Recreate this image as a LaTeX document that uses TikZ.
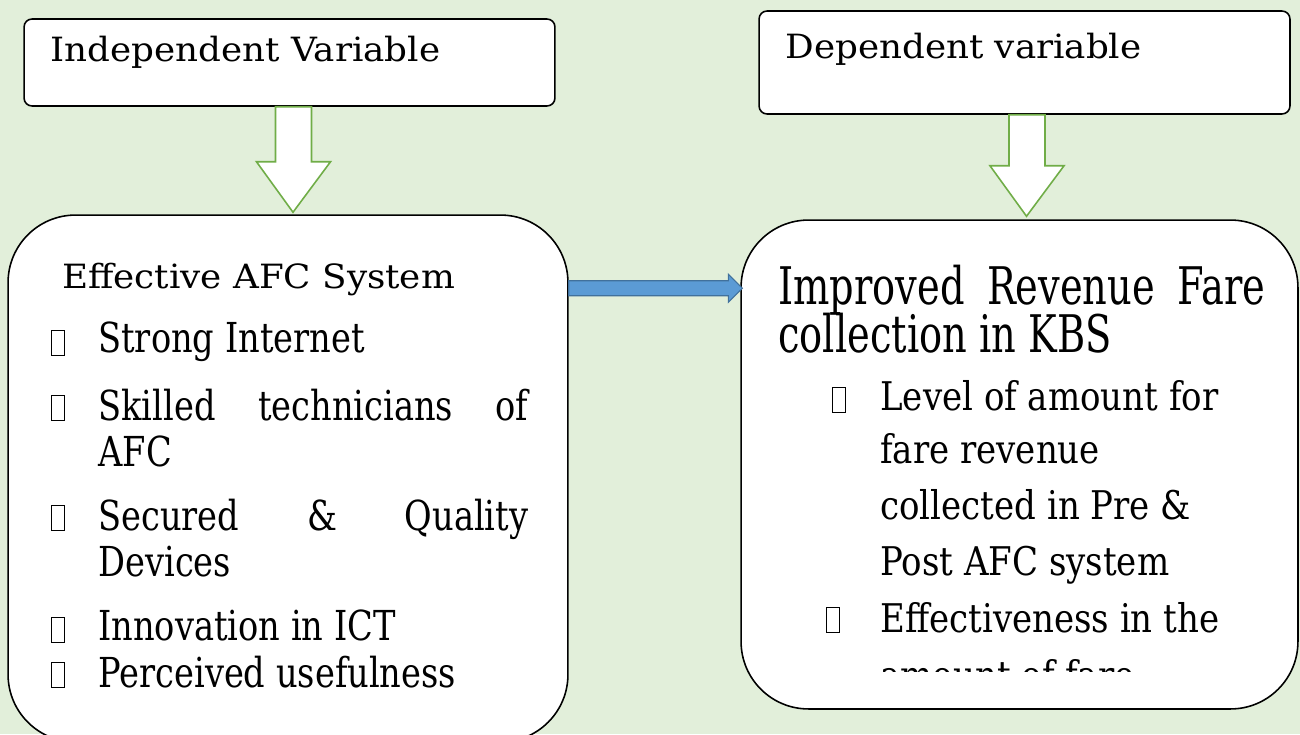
\documentclass[tikz,border=0pt]{standalone}
\usepackage{fontspec}
\setmainfont{DejaVu Serif}
\newfontfamily\wideheadfont{DejaVu Serif}[FakeStretch=1.07]
\newfontfamily\narrowfont{DejaVu Serif}[FakeStretch=0.815]
\newfontfamily\bignarrowfont{DejaVu Serif}[FakeStretch=0.74]
\newfontfamily\midnarrowfont{DejaVu Serif}[FakeStretch=0.86]
\usetikzlibrary{calc}
\definecolor{bggreen}{HTML}{E2EFDA}
\definecolor{arrowgreen}{HTML}{70AD47}
\definecolor{arrowblue}{HTML}{5B9BD5}
\definecolor{arrowblueline}{HTML}{41719C}

\begin{document}
\begin{tikzpicture}
    [
        x=0.02cm, y=-0.02cm,
        headbox/.style = {draw, fill=white, shape=rectangle, rounded corners=0.16cm, line width=0.9pt},
        bigbox/.style = {draw, fill=white, shape=rectangle, rounded corners=1.35cm, line width=0.9pt},
        hollowarrow/.style = {draw=arrowgreen, fill=white, line width=0.9pt, line join=miter},
        linkarrow/.style = {draw=arrowblueline, fill=arrowblue, line width=0.6pt},
        tofu/.style = {draw, shape=rectangle, minimum width=0.26cm, minimum height=0.5cm, inner sep=0pt, line width=0.6pt},
        headtext/.style = {anchor=base west, inner sep=0pt, font=\wideheadfont\fontsize{19}{21}\selectfont},
        lefttitle/.style = {anchor=base west, inner sep=0pt, font=\wideheadfont\fontsize{19}{21}\selectfont},
        leftitem/.style = {anchor=base west, inner sep=0pt, font=\narrowfont\fontsize{23.5}{26}\selectfont},
        righttitle/.style = {anchor=base west, inner sep=0pt, font=\bignarrowfont\fontsize{29.5}{32}\selectfont},
        rightitem/.style = {anchor=base west, inner sep=0pt, font=\midnarrowfont\fontsize{22.5}{25}\selectfont},
    ]

    \useasboundingbox (0,0) rectangle (1300,734);
    \clip (0,0) rectangle (1300,734);
    \fill[bggreen] (0,0) rectangle (1300,734);

    \node[headbox, minimum width=10.62cm, minimum height=1.74cm] (iv) at (289.5,62.5) {};
    \node[headbox, minimum width=10.62cm, minimum height=2.06cm] (dv) at (1024.5,62.5) {};
    \node[headtext] (ivtext) at (50,61) {Independent Variable};
    \node[headtext] (dvtext) at (785,58) {Dependent variable};

    \node[bigbox, minimum width=11.2cm, minimum height=10.54cm] (effbox) at (288,478.5) {};
    \node[bigbox, minimum width=11.14cm, minimum height=9.78cm] (revbox) at (1019.5,464.5) {};

    \coordinate (lt) at ($(iv.south)+(4,0)$);
    \coordinate (lb) at ($(effbox.north)+(5,-2)$);
    \draw[hollowarrow] ($(lt)+(-18,0)$) -- ($(lt)+(-18,55)$) -- ($(lt)+(-37,55)$) -- (lb)
        -- ($(lt)+(37,55)$) -- ($(lt)+(18,55)$) -- ($(lt)+(18,0)$) -- cycle;
    \coordinate (rt) at ($(dv.south)+(2.5,0)$);
    \coordinate (rb) at ($(revbox.north)+(7,-3)$);
    \draw[hollowarrow] ($(rt)+(-18,0)$) -- ($(rt)+(-18,51)$) -- ($(rt)+(-37,51)$) -- (rb)
        -- ($(rt)+(37,51)$) -- ($(rt)+(18,51)$) -- ($(rt)+(18,0)$) -- cycle;

    \coordinate (ba) at ($(effbox.north east)+(0,74)$);
    \coordinate (bb) at ($(revbox.west |- ba)+(2,0)$);
    \draw[linkarrow] ($(ba)+(0,-7.5)$) -- ($(bb)+(-14,-7.5)$) -- ($(bb)+(-14,-14)$) -- (bb)
        -- ($(bb)+(-14,14)$) -- ($(bb)+(-14,7.5)$) -- ($(ba)+(0,7.5)$) -- cycle;

    \node[lefttitle] (efftitle) at (62,288) {Effective AFC System};
    \node[tofu] (b1) at (58,343) {};
    \node[leftitem] (i1) at (98,352) {Strong Internet};
    \node[tofu] (b2) at (58,408) {};
    \node[leftitem] (i2) at (98,420) {\makebox[8.6cm][s]{Skilled technicians of}};
    \node[leftitem] (i2b) at (98,466) {AFC};
    \node[tofu] (b3) at (58,518) {};
    \node[leftitem] (i3) at (98,530) {\makebox[8.6cm][s]{Secured \& Quality}};
    \node[leftitem] (i3b) at (98,576) {Devices};
    \node[tofu] (b4) at (58,630) {};
    \node[leftitem] (i4) at (98,640) {Innovation in ICT};
    \node[tofu] (b5) at (58,675) {};
    \node[leftitem] (i5) at (98,687) {Perceived usefulness};

    \node[righttitle] (revtitle) at (778,304) {\makebox[9.74cm][s]{Improved Revenue Fare}};
    \node[righttitle] (revtitleb) at (778,352) {collection in KBS};
    \node[tofu] (r1) at (839,400) {};
    \node[rightitem] (j1) at (880,410) {Level of amount for};
    \node[rightitem] (j1b) at (880,463) {fare revenue};
    \node[rightitem] (j1c) at (880,519) {collected in Pre \&};
    \node[rightitem] (j1d) at (880,575) {Post AFC system};
    \node[tofu] (r2) at (833,620) {};
    \node[rightitem] (j2) at (880,632) {Effectiveness in the};
    \begin{scope}
        \clip (740,600) rectangle (1300,671);
        \node[rightitem] (j2b) at (880,689) {amount of fare};
    \end{scope}
\end{tikzpicture}
\end{document}
